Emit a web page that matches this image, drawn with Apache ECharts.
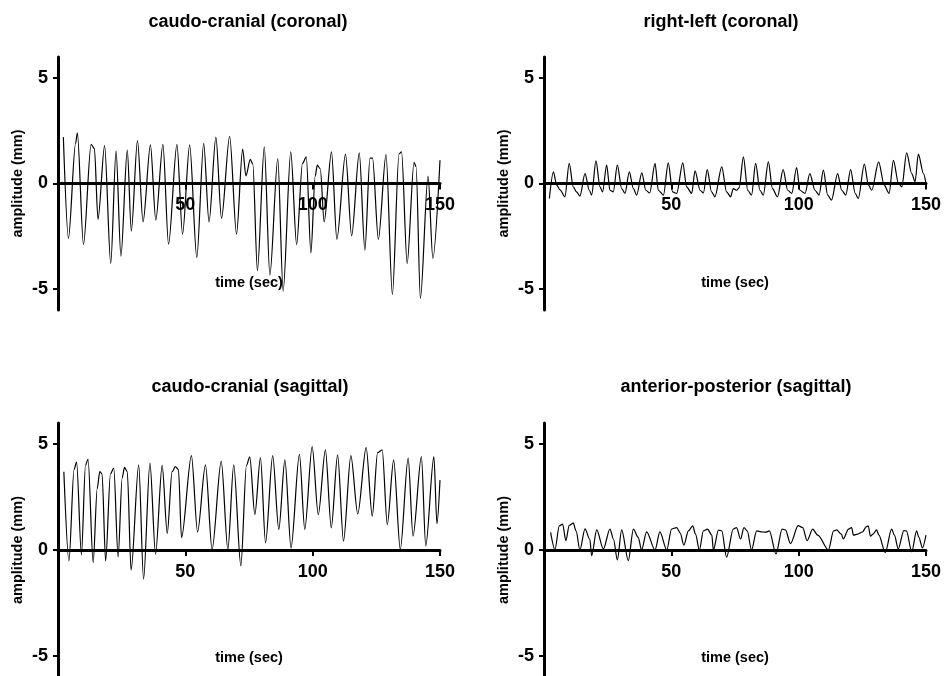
<!DOCTYPE html>
<html>
<head>
<meta charset="utf-8">
<script src="https://cdn.jsdelivr.net/npm/echarts@6/dist/echarts.min.js"></script>
<style>
  html, body { margin: 0; padding: 0; background: #fff; }
  #chart { width: 944px; height: 676px; }
</style>
</head>
<body>
<div id="chart"></div>
<script>
// panel titles
const panelTitles = [
  "caudo-cranial (coronal)",
  "right-left (coronal)",
  "caudo-cranial (sagittal)",
  "anterior-posterior (sagittal)"
];

// tick labels
const xTickValues = [50, 100, 150];
const yTickValues = [-5, 0, 5];

// [time (sec), amplitude (mm)]
const ccCoronal = [
  [2.1, 2.2], [4.1, -2.6], [6.9, 1.9], [7.6, 2.4], [10.0, -2.9], [13.0, 1.86], [14.3, 1.65],
  [15.7, -1.7], [18.3, 1.8], [20.7, -3.8], [22.8, 1.55], [24.7, -3.45], [27.2, 1.58],
  [28.8, -2.26], [31.2, 2.04], [33.4, -1.82], [36.3, 1.83], [38.4, -1.74], [41.2, 1.86],
  [43.4, -2.88], [46.7, 1.86], [48.9, -2.4], [51.7, 1.83], [54.5, -3.52], [57.2, 1.9],
  [59.3, -1.82], [62.0, 2.2], [64.2, -1.66], [67.4, 2.24], [70.1, -2.4], [72.5, 1.63],
  [73.8, 0.36], [75.5, 1.14], [76.5, 0.92], [78.3, -4.14], [81.0, 1.74], [83.2, -4.34],
  [86.3, 1.18], [88.4, -5.1], [91.4, 1.5], [93.7, -2.9], [96.0, 0.95], [97.5, 1.26],
  [99.3, -3.3], [101.0, 0.35], [101.8, 0.87], [103.0, 0.7], [104.5, -1.82], [107.4, 1.5],
  [109.5, -2.65], [112.9, 1.39], [115.3, -2.48], [118.3, 1.45], [120.5, -3.16], [122.5, 1.2],
  [123.5, 1.2], [125.8, -2.65], [128.8, 1.37], [131.3, -5.26], [133.9, 1.4], [134.9, 1.5],
  [137.1, -3.8], [139.8, 1.0], [140.6, 0.8], [142.3, -5.45], [145.3, 0.35], [147.2, -3.55],
  [150.0, 1.1]
];

const rlCoronal = [
  [2.1, -0.71], [3.7, 0.55], [5.0, -0.08], [6.3, -0.3], [8.2, -0.63], [9.9, 0.95], [11.5, -0.16],
  [12.8, -0.4], [14.1, -0.6], [16.1, 0.47], [17.8, -0.32], [18.7, -0.55], [20.4, 1.07],
  [22.0, -0.16], [23.0, -0.4], [24.6, 0.87], [25.9, -0.32], [27.2, -0.4], [28.8, 0.87],
  [30.5, -0.24], [31.8, -0.47], [33.5, 0.55], [35.1, -0.24], [36.4, -0.55], [38.4, 0.5],
  [40.0, -0.32], [41.5, -0.45], [43.6, 0.95], [44.9, -0.32], [46.9, -0.55], [48.8, 0.98],
  [50.5, -0.4], [52.1, -0.47], [54.5, 0.98], [56.0, -0.16], [58.0, -0.47], [59.3, 0.6],
  [61.3, -0.32], [62.6, -0.45], [64.1, 0.66], [65.8, -0.4], [67.1, -0.63], [69.8, 0.79],
  [71.7, -0.4], [73.3, -0.63], [74.3, -0.24], [75.7, -0.32], [76.6, -0.2], [78.3, 1.26],
  [80.0, -0.32], [81.5, -0.55], [83.1, 0.95], [84.8, -0.32], [86.1, -0.55], [88.1, 1.03],
  [89.7, -0.24], [91.7, -0.63], [93.9, 0.66], [95.7, -0.32], [97.3, -0.47], [99.2, 0.76],
  [100.5, -0.32], [102.5, -0.47], [104.4, 0.47], [106.4, -0.32], [108.0, -0.55], [109.7, 0.63],
  [111.4, -0.55], [112.9, -0.79], [115.3, 0.47], [116.9, -0.32], [118.5, -0.55], [120.4, 0.66],
  [122.2, -0.47], [123.4, -0.71], [125.8, 0.92], [127.4, -0.08], [128.7, -0.32], [131.4, 1.03],
  [133.6, -0.08], [135.5, -0.47], [137.2, 1.1], [139.2, 0.0], [140.5, -0.16], [142.4, 1.45],
  [144.4, 0.47], [145.7, 0.08], [147.0, 1.39], [149.0, 0.47], [150.0, 0.0]
];

const ccSagittal = [
  [2.3, 3.7], [4.3, -0.52], [6.3, 3.8], [7.3, 4.15], [9.2, -0.23], [10.8, 4.0], [11.8, 4.3],
  [13.8, -0.6], [15.4, 2.9], [16.4, 3.7], [17.3, 3.6], [18.7, -0.52], [20.6, 3.6], [21.9, 3.87],
  [23.6, -0.33], [25.2, 3.4], [26.1, 3.9], [27.2, 3.7], [28.7, -0.95], [31.7, 4.02],
  [33.6, -1.38], [36.1, 4.1], [38.3, -0.2], [40.9, 4.0], [42.9, 0.78], [44.8, 3.7],
  [46.1, 3.94], [47.3, 3.8], [48.5, 0.58], [52.4, 4.46], [54.8, 0.85], [57.9, 4.02],
  [60.5, 0.03], [64.1, 4.2], [66.7, 0.03], [69.0, 4.02], [71.8, -0.75], [74.0, 4.0],
  [75.3, 4.4], [77.3, 1.67], [79.5, 4.37], [81.5, 0.34], [84.3, 4.46], [86.7, 0.97],
  [89.1, 4.26], [91.5, 0.1], [94.8, 4.52], [96.9, 0.97], [99.8, 4.88], [102.2, 1.67],
  [105.0, 4.73], [107.3, 1.05], [109.8, 4.49], [112.1, 0.42], [115.0, 4.46], [117.7, 1.7],
  [121.0, 4.84], [123.4, 1.6], [125.5, 4.6], [127.3, 4.73], [129.3, 1.2], [131.8, 4.26],
  [134.4, 0.03], [137.5, 4.34], [139.4, 0.66], [142.7, 4.41], [144.4, 0.19], [147.6, 4.41],
  [148.8, 1.24], [150.0, 3.3]
];

const apSagittal = [
  [2.6, 0.83], [4.3, 0.02], [6.0, 1.14], [7.3, 1.22], [8.6, 0.44], [9.9, 1.17], [11.5, 1.27],
  [12.6, 0.9], [14.1, 0.0], [16.1, 1.0], [18.0, 0.5], [18.7, -0.27], [20.7, 0.95], [23.3, 0.05],
  [25.9, 0.99], [27.3, 0.5], [28.8, -0.47], [30.5, 0.95], [33.1, -0.5], [35.1, 0.99],
  [37.0, 0.6], [38.3, 0.0], [40.3, 0.86], [43.6, 0.0], [45.5, 0.86], [48.2, 0.0], [50.1, 0.99],
  [52.1, 1.06], [53.5, 0.8], [54.9, 0.23], [56.7, 0.9], [58.4, 1.14], [59.5, 0.75], [61.0, 0.0],
  [62.6, 0.9], [64.2, 0.99], [65.9, 0.7], [66.5, 0.0], [68.5, 0.94], [69.8, 0.9], [71.7, -0.34],
  [74.3, 0.99], [75.6, 1.06], [77.2, 0.52], [78.5, 1.06], [79.8, 0.9], [81.5, 0.0], [83.5, 0.9],
  [85.3, 0.86], [87.0, 0.84], [88.5, 0.9], [91.1, -0.19], [93.5, 0.99], [94.8, 0.95],
  [96.8, 0.3], [99.8, 1.15], [101.6, 1.06], [103.3, 0.44], [105.5, 0.99], [107.5, 0.7],
  [111.7, 0.0], [113.7, 0.9], [114.9, 0.95], [116.8, 0.75], [117.5, 0.52], [119.6, 0.99],
  [120.8, 1.06], [121.5, 0.7], [123.2, 0.75], [125.0, 0.85], [126.6, 1.1], [127.3, 1.14],
  [128.2, 0.65], [129.2, 0.75], [130.6, 0.95], [131.5, 0.7], [134.0, -0.12], [136.5, 0.99],
  [137.6, 0.7], [139.1, 0.05], [141.3, 0.92], [142.3, 0.9], [144.4, -0.08], [146.3, 0.9],
  [147.2, 0.6], [148.6, 0.1], [150.0, 0.7]
];

const panelData = [ccCoronal, rlCoronal, ccSagittal, apSagittal];

const FONT = "'Liberation Sans', Arial, Helvetica, sans-serif";

// grid boxes and label spots, by panel
const grids = [
  { left: 58, top: 57, width: 382, height: 253 },
  { left: 544, top: 57, width: 382, height: 253 },
  { left: 58, top: 423, width: 382, height: 254 },
  { left: 544, top: 423, width: 382, height: 254 }
];
const titlePos = [[243, 8], [716, 8], [245, 373], [731, 373]];
const timeNameGap = [92, 92, 100, 100];

const chart = echarts.init(document.getElementById("chart"), null, { renderer: "canvas" });

const option = {
  animation: false,
  backgroundColor: "#fff",
  title: panelTitles.map((t, i) => ({
    text: t,
    left: titlePos[i][0],
    top: titlePos[i][1],
    textAlign: "center",
    textStyle: { fontFamily: FONT, fontSize: 18, fontWeight: "bold", color: "#000" }
  })),
  grid: grids.map(g => Object.assign({ outerBoundsMode: "none", containLabel: false }, g)),
  xAxis: grids.map((g, i) => ({
    type: "value",
    gridIndex: i,
    min: 0,
    max: 150,
    interval: 50,
    // put the axis on the zero line, labels and name move with it
    offset: -g.height / 2,
    name: "time (sec)",
    nameLocation: "middle",
    nameGap: timeNameGap[i],
    nameTextStyle: { fontFamily: FONT, fontSize: 14.5, fontWeight: "bold", color: "#000" },
    axisLine: { onZero: false, lineStyle: { color: "#000", width: 3 } },
    axisTick: { show: true, length: 6, lineStyle: { color: "#000", width: 2 } },
    axisLabel: {
      showMinLabel: false,
      margin: 13,
      fontFamily: FONT, fontSize: 18, fontWeight: "bold", color: "#000",
      formatter: v => (xTickValues.includes(v) ? String(v) : "")
    },
    splitLine: { show: false }
  })),
  yAxis: grids.map((g, i) => ({
    type: "value",
    gridIndex: i,
    min: -6,
    max: 6,
    name: "amplitude (mm)",
    nameLocation: "middle",
    nameGap: 33,
    nameTextStyle: { fontFamily: FONT, fontSize: 14.5, fontWeight: "bold", color: "#000" },
    axisLine: { show: true, onZero: false, lineStyle: { color: "#000", width: 3 } },
    axisTick: { show: true, length: 5, customValues: yTickValues, lineStyle: { color: "#000", width: 2 } },
    axisLabel: {
      customValues: yTickValues,
      margin: 10,
      fontFamily: FONT, fontSize: 18, fontWeight: "bold", color: "#000"
    },
    splitLine: { show: false }
  })),
  series: panelData.map((d, i) => ({
    type: "line",
    xAxisIndex: i,
    yAxisIndex: i,
    data: d,
    showSymbol: false,
    smooth: 0.3,
    smoothMonotone: "x",
    lineStyle: { color: "#000", width: 1.2 },
    z: 1
  }))
};

chart.setOption(option);
</script>
</body>
</html>
